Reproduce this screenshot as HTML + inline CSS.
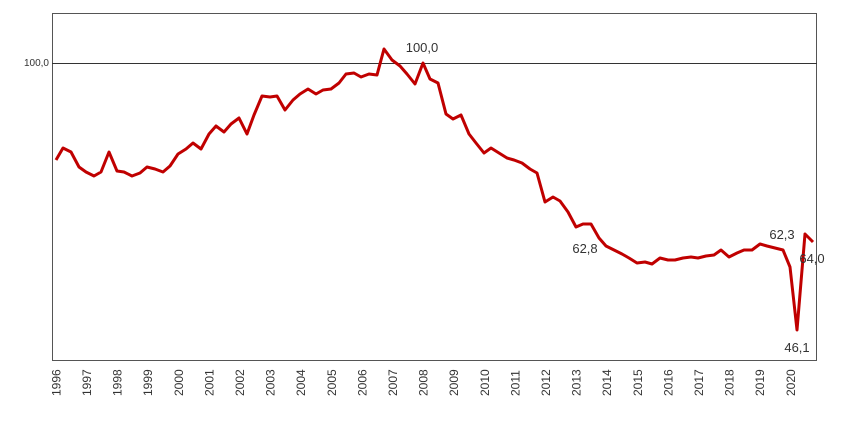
<!DOCTYPE html>
<html><head><meta charset="utf-8"><style>body{margin:0;background:#fff}svg{display:block}text{font-family:"Liberation Sans",sans-serif;fill:#333}</style></head><body>
<svg width="854" height="422" viewBox="0 0 854 422">
<rect x="52.5" y="13.5" width="764" height="347" fill="none" stroke="#555" stroke-width="1"/>
<line x1="52" y1="63.5" x2="817" y2="63.5" stroke="#333" stroke-width="1"/>
<text x="49" y="66" font-size="10" text-anchor="end">100,0</text>
<polyline fill="none" stroke="#c00000" stroke-width="3" stroke-linejoin="round" points="56,160 63,148 71,152 79,167 86,172 94,176 101,172 109,152 117,171 124,172 132,176 140,173 147,167 155,169 163,172 170,166 178,154 186,149 193,143 201,149 209,134 216,126 224,132 231,124 239,118 247,134 254,115 262,96 270,97 277,96 285,110 293,100 300,94 308,89 316,94 323,90 331,89 339,83 346,74 354,73 361,77 369,74 377,75 384,49 392,60 400,66 407,74 415,84 423,63 430,79 438,83 446,114 453,119 461,115 469,134 476,143 484,153 491,148 499,153 507,158 514,160 522,163 530,169 537,173 545,202 553,197 560,201 568,212 576,227 583,224 591,224 599,238 606,246 614,250 622,254 629,258 637,263 645,262 652,264 660,258 668,260 675,260 683,258 691,257 698,258 706,256 714,255 721,250 729,257 737,253 744,250 752,250 760,244 767,246 775,248 783,250 790,267 797,330 805,234 813,242"/>
<g font-size="13">
<text x="422" y="52" text-anchor="middle">100,0</text>
<text x="585" y="253" text-anchor="middle">62,8</text>
<text x="782" y="239" text-anchor="middle">62,3</text>
<text x="812" y="263" text-anchor="middle">64,0</text>
<text x="797" y="352" text-anchor="middle">46,1</text>
</g>
<g font-size="12">
<text transform="translate(60.5,396) rotate(-90)">1996</text>
<text transform="translate(91,396) rotate(-90)">1997</text>
<text transform="translate(121.6,396) rotate(-90)">1998</text>
<text transform="translate(152.2,396) rotate(-90)">1999</text>
<text transform="translate(182.8,396) rotate(-90)">2000</text>
<text transform="translate(213.4,396) rotate(-90)">2001</text>
<text transform="translate(244,396) rotate(-90)">2002</text>
<text transform="translate(274.6,396) rotate(-90)">2003</text>
<text transform="translate(305.2,396) rotate(-90)">2004</text>
<text transform="translate(335.8,396) rotate(-90)">2005</text>
<text transform="translate(366.4,396) rotate(-90)">2006</text>
<text transform="translate(397,396) rotate(-90)">2007</text>
<text transform="translate(427.6,396) rotate(-90)">2008</text>
<text transform="translate(458.2,396) rotate(-90)">2009</text>
<text transform="translate(488.8,396) rotate(-90)">2010</text>
<text transform="translate(519.4,396) rotate(-90)">2011</text>
<text transform="translate(550,396) rotate(-90)">2012</text>
<text transform="translate(580.6,396) rotate(-90)">2013</text>
<text transform="translate(611.2,396) rotate(-90)">2014</text>
<text transform="translate(641.8,396) rotate(-90)">2015</text>
<text transform="translate(672.4,396) rotate(-90)">2016</text>
<text transform="translate(703,396) rotate(-90)">2017</text>
<text transform="translate(733.6,396) rotate(-90)">2018</text>
<text transform="translate(764.2,396) rotate(-90)">2019</text>
<text transform="translate(794.8,396) rotate(-90)">2020</text>
</g>
</svg>
</body></html>
